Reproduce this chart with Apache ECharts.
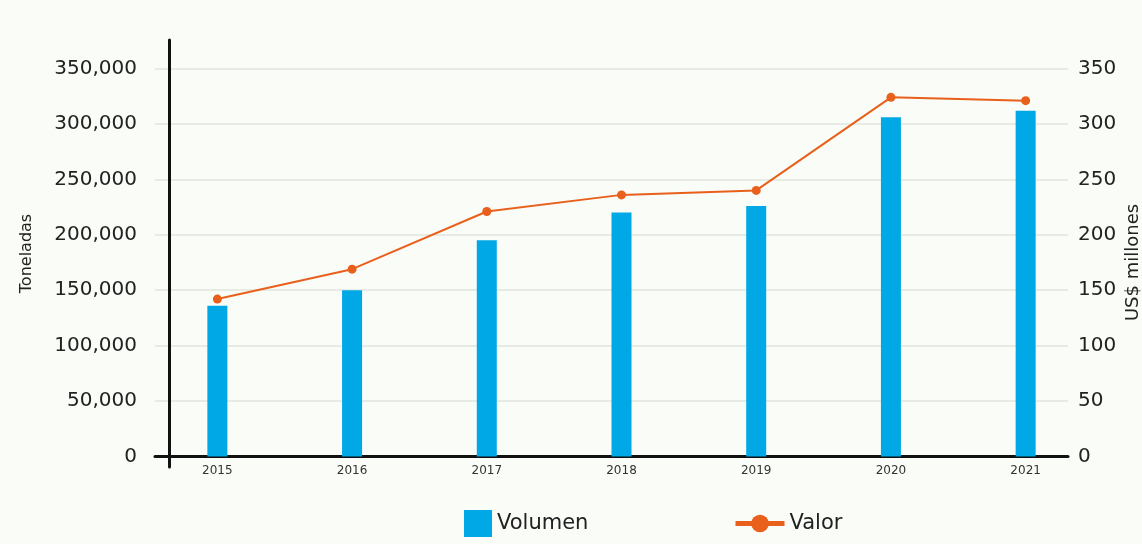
<!DOCTYPE html>
<html>
<head>
<meta charset="utf-8">
<script src="https://cdn.jsdelivr.net/npm/echarts@6/dist/echarts.min.js"></script>
<style>
  html, body { margin: 0; padding: 0; background: #fafcf7; }
  #chart { width: 1142px; height: 544px; }
</style>
</head>
<body>
<div id="chart"></div>
<script>
// datos
let years = ['2015', '2016', '2017', '2018', '2019', '2020', '2021']
let volumen = [136000, 150000, 195000, 220000, 226000, 306000, 312000]
let valor = [142, 169, 221, 236, 240, 324, 321]

let leftMax = 350000, leftStep = 50000
let rightMax = 350, rightStep = 50

let font = 'DejaVu Sans'

function withCommas(v) {
    return String(v).replace(/\B(?=(\d{3})+(?!\d))/g, ',')
}

let myChart = echarts.init(document.getElementById('chart'))

let option = {
    backgroundColor: '#fafcf7',
    animation: false,
    textStyle: { fontFamily: font },
    legend: [
        {
            data: ['Volumen'],
            left: 464, top: 510, padding: 0,
            itemWidth: 28, itemHeight: 27,
            icon: 'rect',
            textStyle: { fontSize: 21, color: '#222', fontFamily: font }
        },
        {
            data: ['Valor'],
            left: 733, top: 513, padding: 0,
            itemWidth: 49, itemHeight: 22,
            lineStyle: { width: 5 },
            textStyle: { fontSize: 21, color: '#222', fontFamily: font }
        }
    ],
    grid: [
        // datos
        { left: 150, right: 49, top: 68.5, bottom: 87.5, outerBoundsMode: 'none' },
        // marco con lineas de guia y etiquetas
        { left: 155, right: 74, top: 68.5, bottom: 87.5, outerBoundsMode: 'none' },
        // eje vertical negro
        { left: 169, width: 10, top: 40, bottom: 77, outerBoundsMode: 'none' }
    ],
    xAxis: [
        {
            gridIndex: 0,
            type: 'category',
            data: years,
            axisLine: { show: false },
            axisTick: { show: false },
            axisLabel: { fontSize: 12, color: '#333', margin: 8 }
        },
        {
            gridIndex: 1,
            type: 'value',
            axisLine: { show: true, onZero: false, lineStyle: { color: '#111', width: 3 } },
            axisTick: { show: false },
            axisLabel: { show: false },
            splitLine: { show: false }
        },
        {
            gridIndex: 2,
            type: 'value',
            show: false
        }
    ],
    yAxis: [
        {
            gridIndex: 0, type: 'value', min: 0, max: leftMax, interval: leftStep, show: false
        },
        {
            gridIndex: 0, type: 'value', min: 0, max: rightMax, interval: rightStep, show: false
        },
        {
            gridIndex: 1,
            type: 'value',
            position: 'left',
            min: 0, max: leftMax, interval: leftStep,
            axisLine: { show: false },
            axisTick: { show: false },
            axisLabel: {
                fontSize: 20, color: '#222', margin: 18,
                formatter: function (v) { return withCommas(v) }
            },
            splitLine: { show: true, lineStyle: { color: '#dfe6dc', width: 1.5 } }
        },
        {
            gridIndex: 1,
            type: 'value',
            position: 'right',
            min: 0, max: rightMax, interval: rightStep,
            axisLine: { show: false },
            axisTick: { show: false },
            axisLabel: { fontSize: 20, color: '#222', margin: 10 },
            splitLine: { show: false },
            name: 'US$ millones',
            nameLocation: 'middle',
            nameGap: 56,
            nameMoveOverlap: false,
            nameTextStyle: { fontSize: 18, color: '#222' }
        },
        {
            gridIndex: 2,
            type: 'value',
            position: 'left',
            axisLine: { show: true, lineStyle: { color: '#111', width: 3 } },
            axisTick: { show: false },
            axisLabel: { show: false },
            splitLine: { show: false },
            name: 'Toneladas',
            nameLocation: 'middle',
            nameGap: 134,
            nameMoveOverlap: false,
            nameTextStyle: { fontSize: 16, color: '#222' }
        }
    ],
    series: [
        {
            name: 'Volumen',
            type: 'bar',
            xAxisIndex: 0,
            yAxisIndex: 0,
            barWidth: 20,
            itemStyle: { color: '#00a8e6' },
            data: volumen,
            z: 3
        },
        {
            name: 'Valor',
            type: 'line',
            xAxisIndex: 0,
            yAxisIndex: 1,
            symbol: 'circle',
            symbolSize: 9,
            itemStyle: { color: '#e8601c' },
            lineStyle: { color: '#e8601c', width: 2 },
            data: valor,
            z: 4
        }
    ]
}

myChart.setOption(option, true)
</script>
</body>
</html>
